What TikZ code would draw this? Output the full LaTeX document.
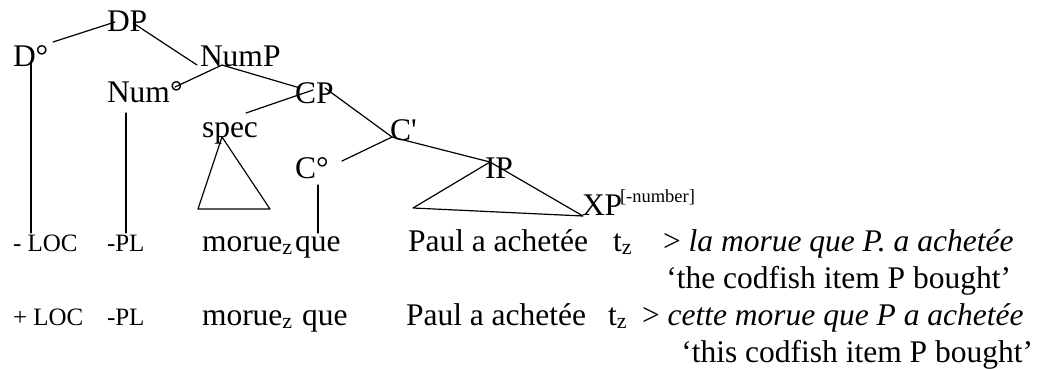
\documentclass[tikz,border=0pt]{standalone}
\usepackage{fontspec}
\setmainfont{Liberation Serif}
\begin{document}
\begin{tikzpicture}[x=1pt,y=-1pt,
  t/.style={inner sep=0pt, outer sep=0pt, anchor=base west, font=\fontsize{31.5}{38}\selectfont},
  ts/.style={t, font=\fontsize{25}{30}\selectfont},
  tsup/.style={t, font=\fontsize{18.5}{22}\selectfont},
  gl/.style={t, anchor=base east},
  br/.style={line width=1.2pt, line cap=round, line join=round}]
\useasboundingbox (0,0) rectangle (1042,368);
% tree labels
\node[t] (DP) at (107,31) {DP};
\node[t] (D) at (13,66) {D°};
\node[t] (NumP) at (200,66) {NumP};
\node[t] (Num) at (107,102) {Num°};
\node[t] (CP) at (295,103) {CP};
\node[t] (spec) at (202,137) {spec};
\node[t] (Cbar) at (390,140) {C\textquotesingle};
\node[t] (C) at (295,178) {C°};
\node[t] (IP) at (485,178) {IP};
\node[t] (XP) at (582,215) {XP};
\node[tsup] (feat) at (620,202) {[-number]};
% branch end points
\coordinate (dpL) at (115,22);
\coordinate (dpR) at (133,23);
\coordinate (dS) at (53,42);
\coordinate (numpW) at (197,65);
\coordinate (numpJ) at (222,65);
\coordinate (numE) at (175,87);
\coordinate (cpW) at (300,88);
\coordinate (cpJ) at (313,90);
\coordinate (cpR) at (325,88);
\coordinate (specE) at (246,113);
\coordinate (cbarJ) at (392,137);
\coordinate (cE) at (342,161);
\coordinate (ipJ) at (490,162);
\coordinate (ipL) at (413,208);
\coordinate (xpW) at (583,216);
\coordinate (specA) at (222,137);
\coordinate (specL) at (198,209);
\coordinate (specR) at (270,209);
\coordinate (dTop) at (31,63);
\coordinate (dBot) at (31,233);
\coordinate (numTop) at (126,113);
\coordinate (numBot) at (126,233);
\coordinate (cTop) at (318,185);
\coordinate (cBot) at (318,233);
% branches
\draw[br] (dS) -- (dpL);
\draw[br] (dpR) -- (numpW);
\draw[br] (numE) -- (numpJ) -- (cpW);
\draw[br] (specE) -- (cpJ);
\draw[br] (cpR) -- (cbarJ);
\draw[br] (cE) -- (cbarJ) -- (ipJ);
\draw[br] (ipJ) -- (ipL) -- (xpW) -- cycle;
\draw[br] (specA) -- (specL) -- (specR) -- cycle;
\draw[br] (dTop) -- (dBot);
\draw[br] (numTop) -- (numBot);
\draw[br] (cTop) -- (cBot);
% row 1
\node[ts] (loc1) at (13,251) {- LOC};
\node[ts] (pl1) at (107,251) {-PL};
\node[t] (mor1) at (202,251) {morue\textsubscript{z}};
\node[t] (que1) at (295,251) {que};
\node[t] (paul1) at (408,251) {Paul a achetée};
\node[t] (tz1) at (613,251) {t\textsubscript{z}};
\node[t] (tr1) at (663,251) {> \textit{la morue que P. a achetée}};
% row 2
\node[gl] (gl1) at (1011,288) {‘the codfish item P bought’};
% row 3
\node[ts] (loc2) at (13,325) {+ LOC};
\node[ts] (pl2) at (107,325) {-PL};
\node[t] (mor2) at (202,325) {morue\textsubscript{z}};
\node[t] (que2) at (302,325) {que};
\node[t] (paul2) at (406,325) {Paul a achetée};
\node[t] (tz2) at (608,325) {t\textsubscript{z}};
\node[t] (tr2) at (642,325) {> \textit{cette morue que P a achetée}};
% row 4
\node[gl] (gl2) at (1033,362) {‘this codfish item P bought’};
\end{tikzpicture}
\end{document}
